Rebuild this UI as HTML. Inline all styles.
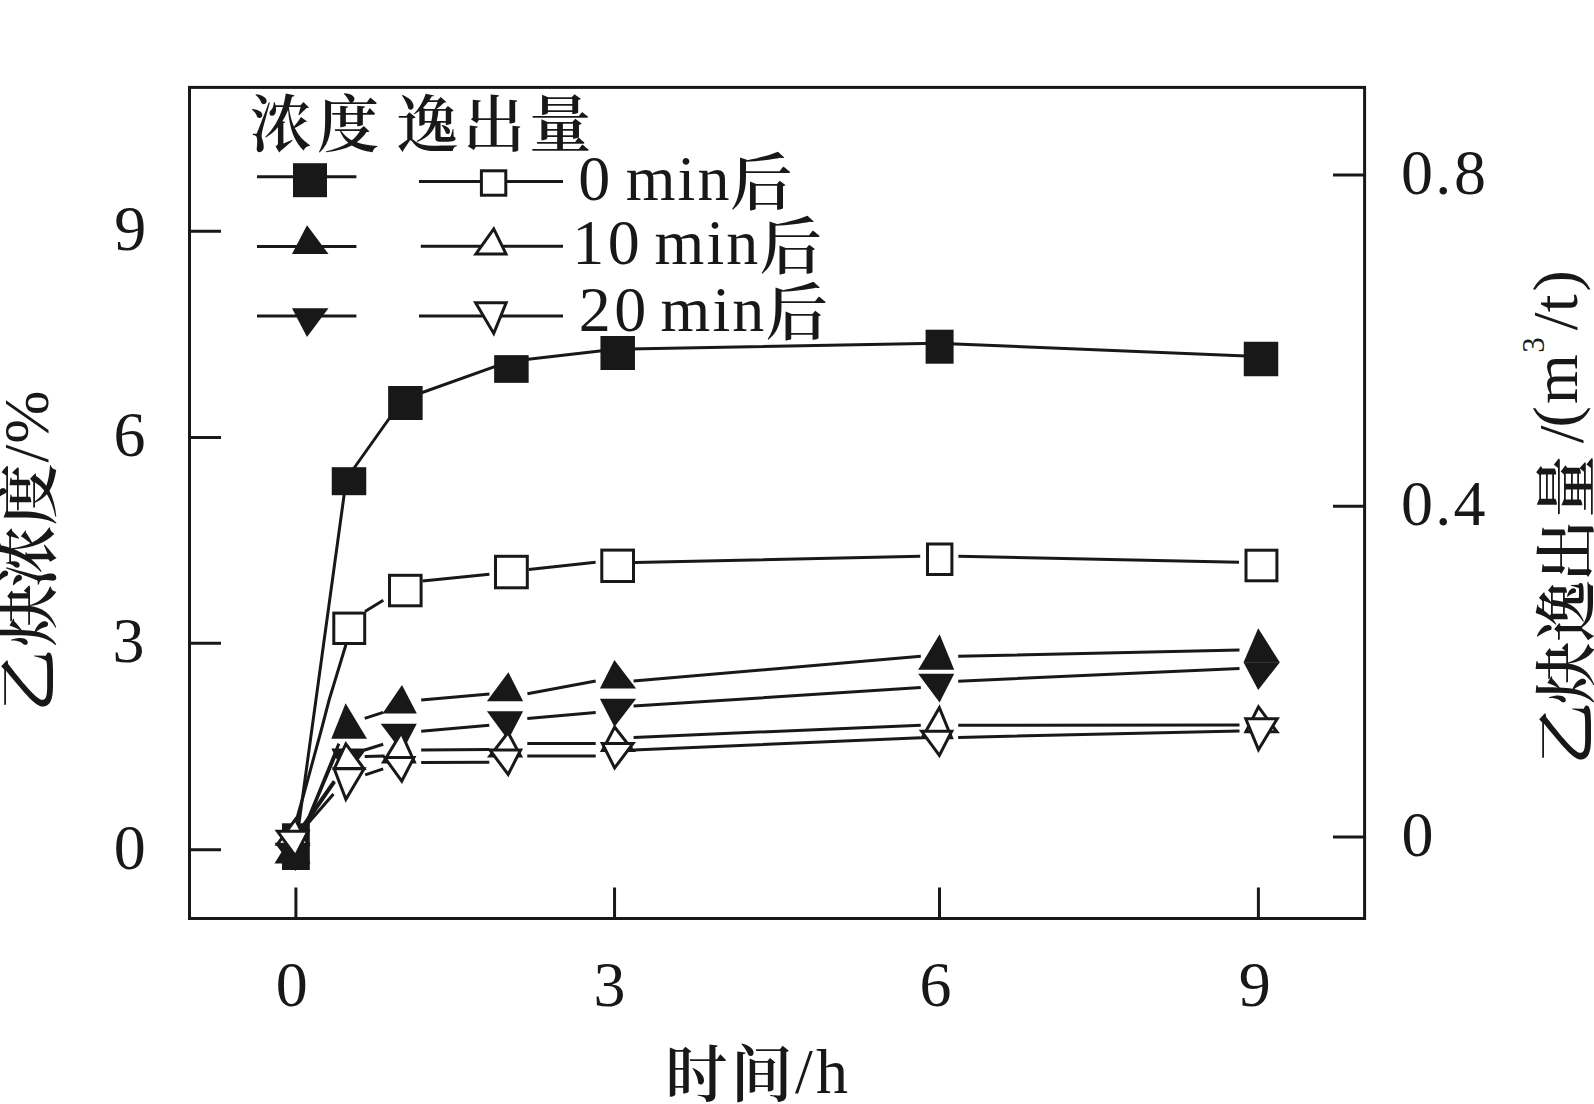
<!DOCTYPE html>
<html lang="zh-CN"><head><meta charset="utf-8"><title>乙炔浓度与逸出量随时间变化</title>
<style>html,body{margin:0;padding:0;background:#fff}body{width:1594px;height:1104px;overflow:hidden}svg text{font-kerning:none}</style></head>
<body>
<svg width="1594" height="1104" viewBox="0 0 1594 1104" style="display:block">
<rect width="1594" height="1104" fill="#fff"/>
<rect x="189.5" y="87.4" width="1175.1" height="831.1" fill="none" stroke="#181818" stroke-width="3"/>
<path d="M295.9 918.5V887.5M614.55 918.5V887.5M939.5 918.5V887.5M1258.4 918.5V887.5M189.5 231.3H221M189.5 437.4H221M189.5 643.2H221M189.5 849.7H221M1364.6 174.9H1333M1364.6 506.3H1333M1364.6 837.1H1333" stroke="#181818" stroke-width="3" fill="none"/>
<path d="M295.3 850L346.3 479L402.7 399.5L508.7 361.6L615 349.3L937 343.3L1258.3 356.4" stroke="#181818" stroke-width="3" fill="none" stroke-linecap="butt" stroke-linejoin="round"/>
<rect x="282" y="823.3" width="27.8" height="46.7" fill="#181818"/>
<rect x="331.75" y="467.2" width="34.5" height="28" fill="#181818"/>
<rect x="388.15" y="386" width="34.5" height="34" fill="#181818"/>
<rect x="494.15" y="355.15" width="34.5" height="27.7" fill="#181818"/>
<rect x="600.45" y="336" width="34.5" height="34" fill="#181818"/>
<rect x="925.6" y="329.7" width="28" height="34" fill="#181818"/>
<rect x="1243.75" y="341.75" width="34.5" height="34.5" fill="#181818"/>
<path d="M297 846L338.9 743.6M364.7 718.4L383.2 712.4M421.2 699.9L489.4 693.9M527.4 693.7L595.7 681.1M633.6 681.1L920.8 656.3M958.2 656.3L1239.5 650" stroke="#181818" stroke-width="3" fill="none" stroke-linecap="butt" stroke-linejoin="round"/>
<polygon points="274.5,863.4 310.5,863.4 295.6,829" fill="#181818"/>
<polygon points="331.3,738.7 367,738.7 345.6,703.3" fill="#181818"/>
<polygon points="382.5,713.4 416.8,713.4 402,685" fill="#181818"/>
<polygon points="486.9,701.2 523.1,701.2 508.4,672.2" fill="#181818"/>
<polygon points="599.9,688.5 636.1,688.5 614.4,660" fill="#181818"/>
<polygon points="918.2,669.8 954.2,669.8 939.6,634.2" fill="#181818"/>
<polygon points="1243.5,662.6 1279.9,662.6 1258.2,628.3" fill="#181818"/>
<path d="M297 846L335.7 754.5M364.7 750L383.2 744.3M421.2 731.2L489.3 725.2M527.3 718.6L595.7 712.6M633.6 706.1L920.8 687.6M958.2 681.2L1239.5 668.6" stroke="#181818" stroke-width="3" fill="none" stroke-linecap="butt" stroke-linejoin="round"/>
<polygon points="274.5,842.7 310.5,842.7 295.6,871" fill="#181818"/>
<polygon points="331.3,748.5 367,748.5 345.6,777" fill="#181818"/>
<polygon points="380.7,723.7 416.8,723.7 402,752" fill="#181818"/>
<polygon points="486.9,711.3 523.1,711.3 508.1,740" fill="#181818"/>
<polygon points="599.9,698.8 636.1,698.8 614.4,727" fill="#181818"/>
<polygon points="918.2,673.7 954.2,673.7 939.6,702.4" fill="#181818"/>
<polygon points="1243.5,662.2 1279.9,662.2 1258.2,690" fill="#181818"/>
<path d="M296.5 820L305.5 788L321.3 730L329.1 700L345.9 644.8M365 611.5L383.3 600.2M422.6 581L489.4 574.2M528.8 569.6L595.6 562.2M635 562.5L920.2 556.3M958.4 556.3L1239 562.2" stroke="#181818" stroke-width="3" fill="none" stroke-linecap="butt" stroke-linejoin="round"/>
<rect x="333.8" y="613.1" width="30.9" height="30.4" fill="#fff" stroke="#181818" stroke-width="3"/>
<rect x="389.5" y="575.3" width="31.6" height="30.5" fill="#fff" stroke="#181818" stroke-width="3"/>
<rect x="495.5" y="556.3" width="31.8" height="31.5" fill="#fff" stroke="#181818" stroke-width="3"/>
<rect x="601.8" y="550.1" width="31.7" height="31.4" fill="#fff" stroke="#181818" stroke-width="3"/>
<rect x="927.5" y="544" width="24.4" height="30.5" fill="#fff" stroke="#181818" stroke-width="3"/>
<rect x="1246" y="550.2" width="30.9" height="30.6" fill="#fff" stroke="#181818" stroke-width="3"/>
<path d="M297.8 835L334.6 781.9" stroke="#181818" stroke-width="3.2" fill="none" stroke-linecap="butt" stroke-linejoin="round"/>
<path d="M297 834L334 781M364.7 756.5L384.7 756M421.2 750L489.4 749.6M527.3 743.4L595.7 743.4M633.6 737.4L920.8 725.2M958.2 725.2L1239.5 725" stroke="#181818" stroke-width="3" fill="none" stroke-linecap="butt" stroke-linejoin="round"/>
<polygon points="277.43,844.2 308.05,844.2 295.38,819.27" fill="#fff" stroke="#181818" stroke-width="3" stroke-linejoin="miter" stroke-miterlimit="10"/>
<polygon points="334.36,768.5 363.75,768.5 345.88,743.93" fill="#fff" stroke="#181818" stroke-width="3" stroke-linejoin="miter" stroke-miterlimit="10"/>
<polygon points="383.57,761.9 414.38,761.9 401.3,732.72" fill="#fff" stroke="#181818" stroke-width="3" stroke-linejoin="miter" stroke-miterlimit="10"/>
<polygon points="489.94,756.1 520.61,756.1 508.07,732.47" fill="#fff" stroke="#181818" stroke-width="3" stroke-linejoin="miter" stroke-miterlimit="10"/>
<polygon points="602.38,750.5 632.93,750.5 614.65,727.06" fill="#fff" stroke="#181818" stroke-width="3" stroke-linejoin="miter" stroke-miterlimit="10"/>
<polygon points="922.09,737.8 951.57,737.8 939.37,707.72" fill="#fff" stroke="#181818" stroke-width="3" stroke-linejoin="miter" stroke-miterlimit="10"/>
<polygon points="1245.93,731.8 1276.92,731.8 1258.45,706.95" fill="#fff" stroke="#181818" stroke-width="3" stroke-linejoin="miter" stroke-miterlimit="10"/>
<path d="M297 836L333.5 793.9M365.2 774.9L383.2 768.8M421.2 762.5L489.3 762.3M527.3 756.1L595.7 756.1M633.6 750L920.8 737.8M958.2 737.4L1239.5 731" stroke="#181818" stroke-width="3" fill="none" stroke-linecap="butt" stroke-linejoin="round"/>
<polygon points="277.45,831.3 308.04,831.3 295.38,855.95" fill="#fff" stroke="#181818" stroke-width="3" stroke-linejoin="miter" stroke-miterlimit="10"/>
<polygon points="334.18,768.8 364.06,768.8 345.89,799.28" fill="#fff" stroke="#181818" stroke-width="3" stroke-linejoin="miter" stroke-miterlimit="10"/>
<polygon points="384.65,757.5 413.94,757.5 401.78,781.05" fill="#fff" stroke="#181818" stroke-width="3" stroke-linejoin="miter" stroke-miterlimit="10"/>
<polygon points="489.89,750 520.65,750 508.16,774.47" fill="#fff" stroke="#181818" stroke-width="3" stroke-linejoin="miter" stroke-miterlimit="10"/>
<polygon points="602.33,743.4 633.01,743.4 614.65,767.96" fill="#fff" stroke="#181818" stroke-width="3" stroke-linejoin="miter" stroke-miterlimit="10"/>
<polygon points="921.67,731.3 951.74,731.3 939.37,755.36" fill="#fff" stroke="#181818" stroke-width="3" stroke-linejoin="miter" stroke-miterlimit="10"/>
<polygon points="1245.74,718.8 1277.23,718.8 1258.46,749.69" fill="#fff" stroke="#181818" stroke-width="3" stroke-linejoin="miter" stroke-miterlimit="10"/>
<path d="M257 176.7L356.4 176.7M257 246.4L356.4 246.4M257 316L356.4 316M419 181.5L563 181.5M420.8 246.2L563 246.2M419 316L563 316" stroke="#181818" stroke-width="3" fill="none" stroke-linecap="butt" stroke-linejoin="round"/>
<rect x="293" y="163.2" width="34" height="34" fill="#181818"/>
<polygon points="292,254 328.5,254 307,225.3" fill="#181818"/>
<polygon points="292,308.3 328.5,308.3 307,336.9" fill="#181818"/>
<rect x="481.4" y="170.8" width="24.4" height="24.4" fill="#fff" stroke="#181818" stroke-width="3"/>
<polygon points="475.91,253.9 506,253.9 493.76,228.92" fill="#fff" stroke="#181818" stroke-width="3" stroke-linejoin="miter" stroke-miterlimit="10"/>
<polygon points="475.63,302.8 506.17,302.8 493.75,333.43" fill="#fff" stroke="#181818" stroke-width="3" stroke-linejoin="miter" stroke-miterlimit="10"/>
<text font-family="'Liberation Serif', 'Noto Serif CJK SC', serif" fill="#181818" ><tspan x="249.75 317 379 396.6 462.9 529.3" y="146.5" font-size="62" font-weight="600">浓度 逸出量</tspan></text>
<text font-family="'Liberation Serif', 'Noto Serif CJK SC', serif" fill="#181818" ><tspan x="578.35 610.35 625.65 677.55 697.45" y="200" font-size="64">0 min</tspan><tspan x="730.3" y="204.5" font-size="62" font-weight="600">后</tspan></text>
<text font-family="'Liberation Serif', 'Noto Serif CJK SC', serif" fill="#181818" ><tspan x="572.35 607.75 639.75 654.55 706.45 726.35" y="264" font-size="64">10 min</tspan><tspan x="759.7" y="268.5" font-size="62" font-weight="600">后</tspan></text>
<text font-family="'Liberation Serif', 'Noto Serif CJK SC', serif" fill="#181818" ><tspan x="578.85 614.25 646.25 660.55 712.45 732.35" y="330.5" font-size="64">20 min</tspan><tspan x="765.7" y="335" font-size="62" font-weight="600">后</tspan></text>
<text font-family="'Liberation Serif', 'Noto Serif CJK SC', serif" fill="#181818" ><tspan x="275.7" y="1005.7" font-size="64">0</tspan></text>
<text font-family="'Liberation Serif', 'Noto Serif CJK SC', serif" fill="#181818" ><tspan x="593.6" y="1005.7" font-size="64">3</tspan></text>
<text font-family="'Liberation Serif', 'Noto Serif CJK SC', serif" fill="#181818" ><tspan x="919.4" y="1005.7" font-size="64">6</tspan></text>
<text font-family="'Liberation Serif', 'Noto Serif CJK SC', serif" fill="#181818" ><tspan x="1238.8" y="1005.7" font-size="64">9</tspan></text>
<text font-family="'Liberation Serif', 'Noto Serif CJK SC', serif" fill="#181818" ><tspan x="114.25" y="250" font-size="64">9</tspan></text>
<text font-family="'Liberation Serif', 'Noto Serif CJK SC', serif" fill="#181818" ><tspan x="113.55" y="456" font-size="64">6</tspan></text>
<text font-family="'Liberation Serif', 'Noto Serif CJK SC', serif" fill="#181818" ><tspan x="112.5" y="662.3" font-size="64">3</tspan></text>
<text font-family="'Liberation Serif', 'Noto Serif CJK SC', serif" fill="#181818" ><tspan x="113.75" y="868.8" font-size="64">0</tspan></text>
<text font-family="'Liberation Serif', 'Noto Serif CJK SC', serif" fill="#181818" ><tspan x="1401.1 1435.3 1454.1" y="194" font-size="64">0.8</tspan></text>
<text font-family="'Liberation Serif', 'Noto Serif CJK SC', serif" fill="#181818" ><tspan x="1401.1 1435.3 1453.55" y="524.8" font-size="64">0.4</tspan></text>
<text font-family="'Liberation Serif', 'Noto Serif CJK SC', serif" fill="#181818" ><tspan x="1401.4" y="856.1" font-size="64">0</tspan></text>
<text font-family="'Liberation Serif', 'Noto Serif CJK SC', serif" fill="#181818" ><tspan x="665.15 730.85" y="1097" font-size="62" font-weight="600">时间</tspan><tspan x="795.1 816" y="1093" font-size="64">/h</tspan></text>
<text font-family="'Liberation Serif', 'Noto Serif CJK SC', serif" fill="#181818" transform="rotate(-90)" ><tspan x="-711.77 -646.78 -587.5 -525.5" y="50.7" font-size="62" font-weight="600">乙炔浓度</tspan><tspan x="-462.6 -443.65" y="47.7" font-size="64">/%</tspan></text>
<text font-family="'Liberation Serif', 'Noto Serif CJK SC', serif" fill="#181818" transform="rotate(-90)" ><tspan x="-764.67 -704.13 -642 -581.85 -517.4 -455.4" y="1588.6" font-size="62" font-weight="600">乙炔逸出量 </tspan><tspan x="-443.2" y="1582.6" font-size="64">/</tspan><tspan x="-427.6 -404" y="1576.6" font-size="64">(m</tspan><tspan x="-352.75" y="1543.6" font-size="31">3</tspan><tspan x="-330.2 -312.2 -291.5" y="1576.6" font-size="64">/t)</tspan></text>
</svg>
</body></html>
